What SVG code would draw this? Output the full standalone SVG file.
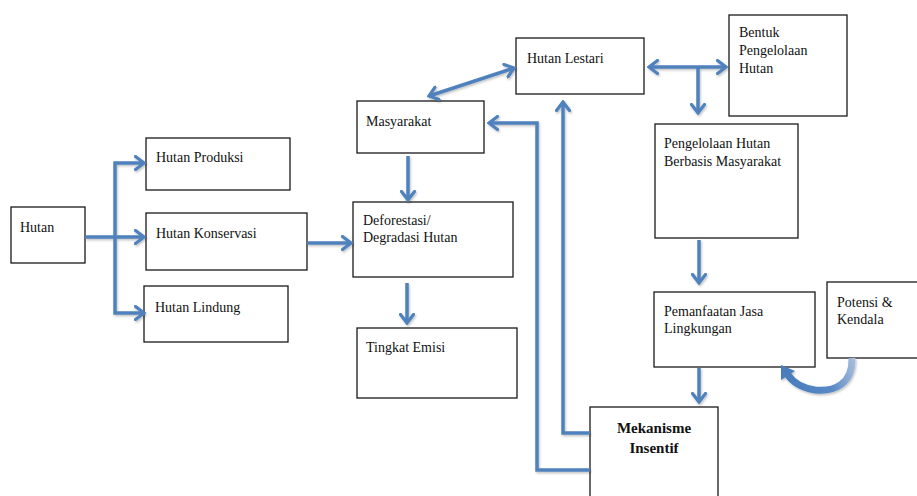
<svg xmlns="http://www.w3.org/2000/svg" width="917" height="496" viewBox="0 0 917 496">
<style>
.box{fill:#fff;stroke:#1a1a1a;stroke-width:1.3}
.t{font-family:"Liberation Serif","Times New Roman",serif;font-size:14px;fill:#111}
.tb{font-family:"Liberation Serif","Times New Roman",serif;font-size:15px;font-weight:bold;fill:#111}
.c{fill:none;stroke:#4F81BD;stroke-width:3.5;stroke-linejoin:miter}
</style>
<defs>
<marker id="ah" viewBox="0 0 12 16" refX="10" refY="8" markerWidth="12" markerHeight="16" markerUnits="userSpaceOnUse" orient="auto-start-reverse">
<path d="M1.5,1.5 L10,8 L1.5,14.5" fill="none" stroke="#4F81BD" stroke-width="3.2" stroke-linecap="round"/>
</marker>
<filter id="sh" x="-10%" y="-10%" width="120%" height="120%">
<feDropShadow dx="1" dy="1.5" stdDeviation="1" flood-color="#000" flood-opacity="0.25"/>
</filter>
<linearGradient id="cg" gradientUnits="userSpaceOnUse" x1="790" y1="380" x2="855" y2="360">
<stop offset="0" stop-color="#4a7dbb"/>
<stop offset="0.55" stop-color="#5a8ac6"/>
<stop offset="1" stop-color="#a9bfdc"/>
</linearGradient>
</defs>

<g id="node-hutan"><rect class="box" x="11" y="207" width="74" height="56"/><text class="t" x="20" y="232">Hutan</text></g>
<g id="node-produksi"><rect class="box" x="146" y="138" width="144" height="52"/><text class="t" x="156" y="162">Hutan Produksi</text></g>
<g id="node-konservasi"><rect class="box" x="146" y="213" width="161" height="57"/><text class="t" x="156" y="238">Hutan Konservasi</text></g>
<g id="node-lindung"><rect class="box" x="144" y="286" width="144" height="56"/><text class="t" x="155" y="312">Hutan Lindung</text></g>
<g id="node-masyarakat"><rect class="box" x="357" y="101" width="127" height="52"/><text class="t" x="366" y="126">Masyarakat</text></g>
<g id="node-lestari"><rect class="box" x="516" y="38" width="128" height="56"/><text class="t" x="527" y="63">Hutan Lestari</text></g>
<g id="node-deforestasi"><rect class="box" x="353" y="202" width="160" height="75"/><text class="t" x="363" y="225">Deforestasi/</text><text class="t" x="363" y="242">Degradasi Hutan</text></g>
<g id="node-emisi"><rect class="box" x="357" y="328" width="160" height="70"/><text class="t" x="366" y="352">Tingkat Emisi</text></g>
<g id="node-bentuk"><rect class="box" x="729" y="15" width="118" height="101"/><text class="t" x="739" y="37">Bentuk</text><text class="t" x="739" y="55">Pengelolaan</text><text class="t" x="739" y="73">Hutan</text></g>
<g id="node-phbm"><rect class="box" x="655" y="124" width="143" height="114"/><text class="t" x="664" y="148">Pengelolaan Hutan</text><text class="t" x="664" y="166">Berbasis Masyarakat</text></g>
<g id="node-pemanfaatan"><rect class="box" x="654" y="292" width="161" height="75"/><text class="t" x="664" y="316">Pemanfaatan Jasa</text><text class="t" x="664" y="333">Lingkungan</text></g>
<g id="node-potensi"><rect class="box" x="827" y="282" width="95" height="76"/><text class="t" x="837" y="307">Potensi &amp;</text><text class="t" x="837" y="324">Kendala</text></g>
<g id="node-mekanisme"><rect class="box" x="590" y="407" width="128" height="90"/><text class="tb" x="654" y="433" text-anchor="middle">Mekanisme</text><text class="tb" x="654" y="453" text-anchor="middle">Insentif</text></g>

<g id="connectors" filter="url(#sh)">
<path class="c" d="M85,237 H144" marker-end="url(#ah)"/>
<path class="c" d="M144,163 H115 V313 H144" marker-start="url(#ah)" marker-end="url(#ah)"/>
<path class="c" d="M307,243 H351" marker-end="url(#ah)"/>
<path class="c" d="M429,96 L514,68" marker-start="url(#ah)" marker-end="url(#ah)"/>
<path class="c" d="M408,156 V200" marker-end="url(#ah)"/>
<path class="c" d="M407,283 V323" marker-end="url(#ah)"/>
<path class="c" d="M590,470 H537 V123 H489" marker-end="url(#ah)"/>
<path class="c" d="M590,433 H563 V102" marker-end="url(#ah)"/>
<path class="c" d="M649,67 H726" marker-start="url(#ah)" marker-end="url(#ah)"/>
<path class="c" d="M698,67 V113" marker-end="url(#ah)"/>
<path class="c" d="M699,240 V283" marker-end="url(#ah)"/>
<path class="c" d="M699,368 V402" marker-end="url(#ah)"/>
<path d="M852,358 C853,384 834,392 815,390 C801,388 792,381 788,375" fill="none" stroke="url(#cg)" stroke-width="7"/>
<polygon points="781,365 795,371 781,380" fill="#4a7dbb"/>
</g>
</svg>
